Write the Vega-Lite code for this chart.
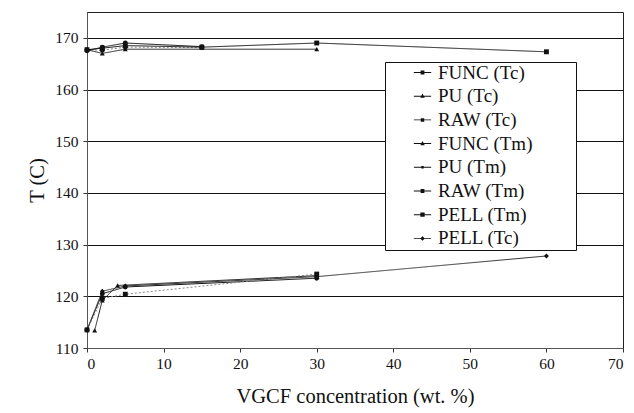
{
  "$schema": "https://vega.github.io/schema/vega-lite/v6.json",
  "width": 536,
  "height": 336,
  "autosize": {"type": "none"},
  "padding": {"left": 87, "top": 12, "right": 11, "bottom": 65},
  "background": "white",
  "config": {
    "font": "Liberation Serif",
    "view": {"stroke": "#222", "strokeWidth": 1},
    "axis": {
      "labelFont": "Liberation Serif",
      "titleFont": "Liberation Serif",
      "labelColor": "#111",
      "titleColor": "#111",
      "labelFontSize": 15.5,
      "titleFontSize": 20.5,
      "titleFontWeight": "normal",
      "domainColor": "#555",
      "tickColor": "#333",
      "tickSize": 4
    },
    "legend": {
      "labelFont": "Liberation Serif"
    }
  },
  "data": {
    "values": [
      {"series": "FUNC (Tc)", "x": 0, "T": 113.5},
      {"series": "FUNC (Tc)", "x": 2, "T": 120.5},
      {"series": "FUNC (Tc)", "x": 5, "T": 121.8},
      {"series": "FUNC (Tc)", "x": 30, "T": 123.5},
      {"series": "PU (Tc)", "x": 1, "T": 113.4},
      {"series": "PU (Tc)", "x": 2, "T": 119.2},
      {"series": "PU (Tc)", "x": 4, "T": 122.1},
      {"series": "PU (Tc)", "x": 30, "T": 124.0},
      {"series": "RAW (Tc)", "x": 0, "T": 113.5},
      {"series": "RAW (Tc)", "x": 2, "T": 119.6},
      {"series": "RAW (Tc)", "x": 5, "T": 120.4},
      {"series": "RAW (Tc)", "x": 30, "T": 124.3},
      {"series": "FUNC (Tm)", "x": 0, "T": 167.7},
      {"series": "FUNC (Tm)", "x": 2, "T": 167.0},
      {"series": "FUNC (Tm)", "x": 5, "T": 167.8},
      {"series": "FUNC (Tm)", "x": 30, "T": 167.8},
      {"series": "PU (Tm)", "x": 0, "T": 167.7},
      {"series": "PU (Tm)", "x": 2, "T": 167.6},
      {"series": "PU (Tm)", "x": 5, "T": 168.2},
      {"series": "PU (Tm)", "x": 15, "T": 168.1},
      {"series": "RAW (Tm)", "x": 0, "T": 167.5},
      {"series": "RAW (Tm)", "x": 2, "T": 168.2},
      {"series": "RAW (Tm)", "x": 5, "T": 169.0},
      {"series": "RAW (Tm)", "x": 15, "T": 168.3},
      {"series": "PELL (Tm)", "x": 0, "T": 167.7},
      {"series": "PELL (Tm)", "x": 2, "T": 168.0},
      {"series": "PELL (Tm)", "x": 5, "T": 168.5},
      {"series": "PELL (Tm)", "x": 15, "T": 168.2},
      {"series": "PELL (Tm)", "x": 30, "T": 169.0},
      {"series": "PELL (Tm)", "x": 60, "T": 167.3},
      {"series": "PELL (Tc)", "x": 0, "T": 113.5},
      {"series": "PELL (Tc)", "x": 2, "T": 121.0},
      {"series": "PELL (Tc)", "x": 5, "T": 122.0},
      {"series": "PELL (Tc)", "x": 30, "T": 123.8},
      {"series": "PELL (Tc)", "x": 60, "T": 127.8}
    ]
  },
  "encoding": {
    "x": {
      "field": "x", "type": "quantitative",
      "scale": {"domain": [0, 70], "nice": false},
      "axis": {"values": [0, 10, 20, 30, 40, 50, 60, 70], "grid": false, "title": "VGCF concentration (wt. %)", "titlePadding": 15, "labelPadding": 4}
    },
    "y": {
      "field": "T", "type": "quantitative",
      "scale": {"domain": [110, 175], "nice": false, "zero": false},
      "axis": {"values": [110, 120, 130, 140, 150, 160, 170], "grid": true, "gridColor": "#111", "gridWidth": 1, "gridOpacity": 1, "title": "T (C)", "titlePadding": 7, "labelPadding": 5}
    }
  },
  "layer": [
    {
      "mark": {"type": "line", "strokeWidth": 1},
      "encoding": {
        "detail": {"field": "series"},
        "stroke": {
          "field": "series", "type": "nominal", "legend": null,
          "scale": {
            "domain": ["FUNC (Tc)", "PU (Tc)", "RAW (Tc)", "FUNC (Tm)", "PU (Tm)", "RAW (Tm)", "PELL (Tm)", "PELL (Tc)"],
            "range": ["#111", "#222", "#888", "#222", "#888", "#111", "#111", "#333"]
          }
        },
        "strokeDash": {
          "field": "series", "type": "nominal", "legend": null,
          "scale": {
            "domain": ["FUNC (Tc)", "PU (Tc)", "RAW (Tc)", "FUNC (Tm)", "PU (Tm)", "RAW (Tm)", "PELL (Tm)", "PELL (Tc)"],
            "range": [[1, 0], [1, 0], [2, 2], [1, 0], [2, 2], [1, 0], [1, 0], [1, 0]]
          }
        }
      }
    },
    {
      "mark": {"type": "point", "filled": true, "fill": "#111", "opacity": 1, "size": 24},
      "encoding": {
        "shape": {
          "field": "series", "type": "nominal", "legend": null,
          "scale": {
            "domain": ["FUNC (Tc)", "PU (Tc)", "RAW (Tc)", "FUNC (Tm)", "PU (Tm)", "RAW (Tm)", "PELL (Tm)", "PELL (Tc)"],
            "range": ["circle", "triangle-up", "square", "triangle-up", "circle", "circle", "square", "diamond"]
          }
        }
      }
    },
    {
      "transform": [{"filter": "false"}],
      "mark": {"type": "point", "filled": true, "fill": "#111", "opacity": 1},
      "encoding": {
        "shape": {
          "field": "series", "type": "nominal",
          "scale": {
            "domain": ["FUNC (Tc)", "PU (Tc)", "RAW (Tc)", "FUNC (Tm)", "PU (Tm)", "RAW (Tm)", "PELL (Tm)", "PELL (Tc)"],
            "range": [
              "M-1,-0.06H1V0.06H-1ZM-0.22,-0.22H0.22V0.22H-0.22Z",
              "M-1,-0.06H1V0.06H-1ZM0,-0.3L0.26,0.18H-0.26Z",
              "M-1,-0.05H1V0.05H-1ZM-0.2,-0.2H0.2V0.2H-0.2Z",
              "M-1,-0.06H1V0.06H-1ZM0,-0.3L0.26,0.18H-0.26Z",
              "M-1,-0.05H1V0.05H-1ZM-0.14,-0.14H0.14V0.14H-0.14Z",
              "M-1,-0.06H1V0.06H-1ZM-0.22,-0.22H0.22V0.22H-0.22Z",
              "M-1,-0.06H1V0.06H-1ZM-0.25,-0.25H0.25V0.25H-0.25Z",
              "M-1,-0.05H1V0.05H-1ZM0,-0.26L0.26,0L0,0.26L-0.26,0Z"
            ]
          },
          "legend": {
            "title": null,
            "orient": "none",
            "legendX": 298,
            "legendY": 50,
            "direction": "vertical",
            "fillColor": "white",
            "strokeColor": "#111",
            "padding": 1,
            "symbolOffset": 27,
            "symbolSize": 300,
            "symbolStrokeWidth": 0,
            "symbolFillColor": "#111",
            "labelFont": "Liberation Serif",
            "labelFontSize": 19,
            "labelColor": "#111",
            "labelOffset": 6,
            "rowPadding": 3.7,
            "labelExpr": "datum.label + '\u2800\u2800\u2800'"
          }
        }
      }
    }
  ],
  "resolve": {"scale": {"shape": "independent"}, "legend": {"shape": "independent"}}
}
